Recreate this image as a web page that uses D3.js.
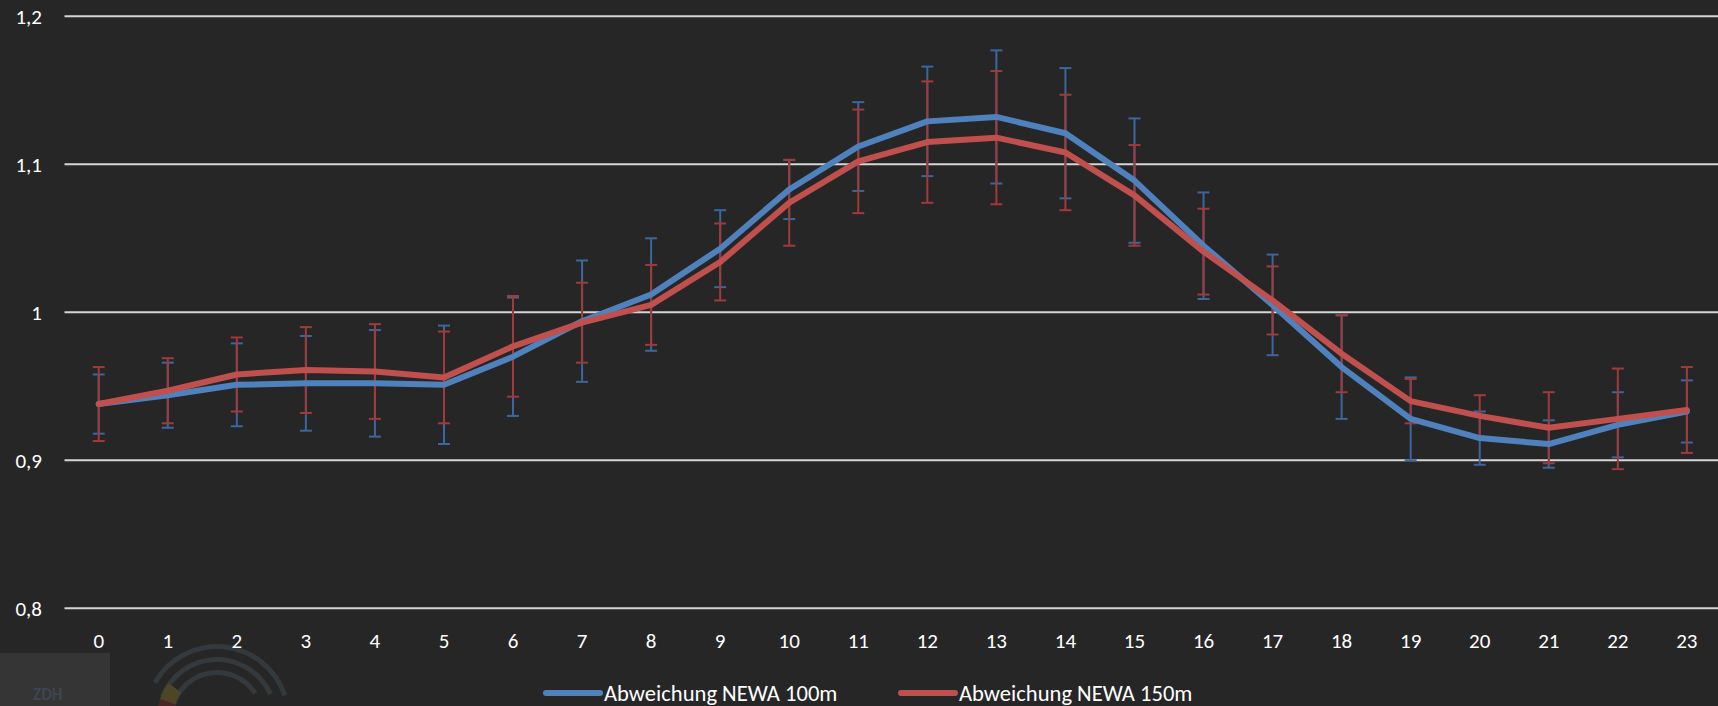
<!DOCTYPE html>
<html>
<head>
<meta charset="utf-8">
<script src="https://cdn.jsdelivr.net/npm/d3@7"></script>
<style>
  html, body { margin: 0; padding: 0; background: #262626; }
  svg { display: block; }
  text { font-family: Carlito, Calibri, Lato, sans-serif; fill: #ffffff; }
</style>
</head>
<body>
<svg id="chart" width="1718" height="706"></svg>
<script>
// Data
const hours = [0, 1, 2, 3, 4, 5, 6, 7, 8, 9, 10, 11, 12, 13, 14, 15, 16, 17, 18, 19, 20, 21, 22, 23];
const newa100 = [0.938, 0.944, 0.951, 0.952, 0.952, 0.951, 0.970, 0.994, 1.012, 1.043, 1.083, 1.112, 1.129, 1.132, 1.121, 1.089, 1.045, 1.005, 0.963, 0.928, 0.915, 0.911, 0.924, 0.933];
const err100 = [0.020, 0.022, 0.028, 0.032, 0.036, 0.040, 0.040, 0.041, 0.038, 0.026, 0.020, 0.030, 0.037, 0.045, 0.044, 0.042, 0.036, 0.034, 0.035, 0.028, 0.018, 0.016, 0.022, 0.021];
const newa150 = [0.938, 0.947, 0.958, 0.961, 0.960, 0.956, 0.977, 0.993, 1.005, 1.034, 1.074, 1.102, 1.115, 1.118, 1.108, 1.079, 1.041, 1.008, 0.972, 0.940, 0.930, 0.922, 0.928, 0.934];
const err150 = [0.025, 0.022, 0.025, 0.029, 0.032, 0.031, 0.034, 0.027, 0.027, 0.026, 0.029, 0.035, 0.041, 0.045, 0.039, 0.034, 0.029, 0.023, 0.026, 0.015, 0.014, 0.024, 0.034, 0.029];
const yTicks = [0.8, 0.9, 1.0, 1.1, 1.2];
const seriesNames = ['Abweichung NEWA 100m', 'Abweichung NEWA 150m'];

const series = [
  { name: seriesNames[0], values: newa100, err: err100, color: '#4f81bd', errColor: '#3b679e' },
  { name: seriesNames[1], values: newa150, err: err150, color: '#c0504d', errColor: '#a13a3a' }
];

const svg = d3.select('#chart');
const width = 1718;

// Scales
const x = d3.scaleBand().domain(hours).range([64.2, 64.2 + 24 * 69.05]);
const cx = d => x(d) + x.bandwidth() / 2;
const y = d3.scaleLinear().domain([0.8, 1.2]).range([608.3, 16.3]);

// Watermark in lower left corner
const mark = svg.append('g').attr('class', 'watermark');
mark.append('rect').attr('x', 0).attr('y', 653).attr('width', 110).attr('height', 53).attr('fill', '#353535');
mark.append('text').attr('x', 33).attr('y', 700).attr('font-size', 17).attr('font-weight', 'bold')
  .style('fill', '#3e4650').text('ZDH');
const arcGen = d3.arc();
const arcs = [
  { r: 74, a0: -1.05, a1: 1.25 },
  { r: 61, a0: -1.2, a1: 1.15 },
  { r: 48, a0: -1.35, a1: 1.0 }
];
arcs.forEach(a => {
  mark.append('path')
    .attr('transform', 'translate(217,718)')
    .attr('d', arcGen({ innerRadius: a.r - 5, outerRadius: a.r, startAngle: a.a0, endAngle: a.a1 }))
    .attr('fill', '#33393c');
});
const flag = [
  { c: '#1e1e1e', a0: -1.95, a1: -1.6 },
  { c: '#4a2626', a0: -1.6, a1: -1.25 },
  { c: '#4c4528', a0: -1.25, a1: -0.95 }
];
flag.forEach(f => {
  mark.append('path')
    .attr('transform', 'translate(217,718)')
    .attr('d', arcGen({ innerRadius: 44, outerRadius: 60, startAngle: f.a0, endAngle: f.a1 }))
    .attr('fill', f.c);
});

// Gridlines
svg.append('g')
  .selectAll('line')
  .data(yTicks)
  .enter().append('line')
  .attr('x1', 64.5)
  .attr('x2', width)
  .attr('y1', d => y(d))
  .attr('y2', d => y(d))
  .attr('stroke', '#d6d6d6')
  .attr('stroke-width', 2);

// Y axis labels
const fmt = d => d === 1 ? '1' : d3.format('.1f')(d).replace('.', ',');
svg.append('g')
  .selectAll('text')
  .data(yTicks)
  .enter().append('text')
  .attr('x', 42)
  .attr('y', d => y(d))
  .attr('dy', '0.35em')
  .attr('text-anchor', 'end')
  .attr('font-size', 21)
  .text(fmt);

// X axis labels
svg.append('g')
  .selectAll('text')
  .data(hours)
  .enter().append('text')
  .attr('x', d => cx(d))
  .attr('y', 641)
  .attr('dy', '0.35em')
  .attr('text-anchor', 'middle')
  .attr('font-size', 21)
  .text(d => d);

// Error bars
series.forEach(s => {
  const g = svg.append('g').attr('stroke', s.errColor).attr('stroke-width', 2);
  hours.forEach((h, i) => {
    const top = y(s.values[i] + s.err[i]);
    const bot = y(s.values[i] - s.err[i]);
    g.append('line').attr('x1', cx(h)).attr('x2', cx(h)).attr('y1', top).attr('y2', bot);
    g.append('line').attr('x1', cx(h) - 6).attr('x2', cx(h) + 6).attr('y1', top).attr('y2', top);
    g.append('line').attr('x1', cx(h) - 6).attr('x2', cx(h) + 6).attr('y1', bot).attr('y2', bot);
  });
});

// Lines
const line = d3.line().x((d, i) => cx(hours[i])).y(d => y(d));
series.forEach(s => {
  svg.append('path')
    .datum(s.values)
    .attr('d', line)
    .attr('fill', 'none')
    .attr('stroke', s.color)
    .attr('stroke-width', 6)
    .attr('stroke-linejoin', 'round')
    .attr('stroke-linecap', 'round');
});

// Legend
const legendX = [546, 901];
series.forEach((s, i) => {
  const g = svg.append('g').attr('transform', 'translate(' + legendX[i] + ',693)');
  g.append('line').attr('x1', 0).attr('x2', 54).attr('y1', 0).attr('y2', 0)
    .attr('stroke', s.color).attr('stroke-width', 6).attr('stroke-linecap', 'round');
  g.append('text').attr('x', 58).attr('y', 0).attr('dy', '0.35em')
    .attr('font-size', 22.6).text(s.name);
});
</script>
</body>
</html>
